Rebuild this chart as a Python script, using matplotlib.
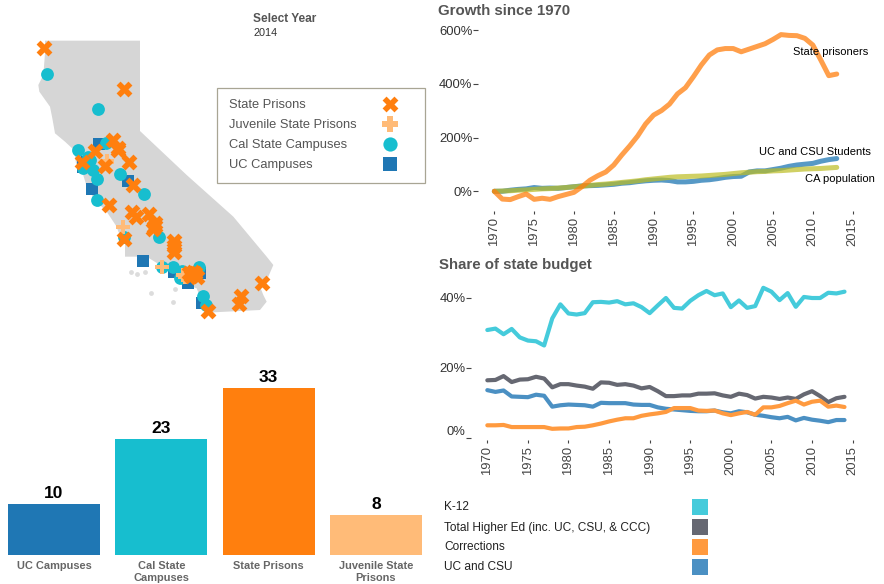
import matplotlib
matplotlib.use('Agg')
import matplotlib.pyplot as plt
from matplotlib.patches import Polygon, Rectangle

plt.rcParams['font.family'] = ['Liberation Sans', 'DejaVu Sans']

W, H = 884, 584

# map outline, map units
state_x = [135, 420, 420, 560, 700, 800, 820, 805, 780, 790, 800, 780, 640, 615, 600, 590, 550, 520, 480, 440, 375, 375,
           355, 350, 320, 285, 262, 248, 228, 222, 195, 165, 157, 150, 118, 115, 130, 135]
state_y = [122, 122, 393, 525, 650, 770, 795, 830, 860, 885, 905, 930, 937, 925, 890, 865, 850, 820, 795, 770, 770, 725,
           695, 680, 635, 600, 565, 520, 490, 450, 425, 400, 355, 320, 275, 255, 225, 160]
island_x = [392, 410, 435, 452, 525, 518]
island_y = [815, 821, 817, 880, 868, 905]

prison_x = [133, 373, 340, 355, 285, 247, 388, 314, 400, 328, 395, 409, 448, 466, 458, 463, 373, 523, 523, 523,
            787, 724, 718, 625, 568, 575, 580, 590, 572, 585, 355, 464, 576]
prison_y = [145, 268, 421, 451, 454, 487, 487, 498, 556, 616, 637, 652, 643, 668, 688, 680, 717, 722, 755, 738,
            850, 887, 913, 934, 818, 825, 815, 830, 828, 820, 445, 678, 822]
juvenile_x = [320, 322, 370, 485, 548, 555, 572, 582]
juvenile_y = [482, 487, 680, 800, 826, 830, 818, 825]
csu_x = [142, 295, 235, 265, 318, 250, 280, 290, 360, 433, 292, 373, 478, 485, 520, 545, 540, 575, 597, 610, 618, 555, 270]
csu_y = [223, 328, 450, 470, 430, 505, 510, 538, 522, 583, 600, 712, 712, 800, 800, 812, 835, 815, 802, 888, 915, 825, 480]
uc_x = [297, 262, 385, 277, 430, 522, 565, 600, 607, 250]
uc_y = [433, 487, 542, 568, 784, 815, 848, 820, 910, 500]

# bars
bar_labels = ['UC Campuses', 'Cal State\nCampuses', 'State Prisons', 'Juvenile State\nPrisons']
bar_values = [10, 23, 33, 8]
bar_colors = ['#1f77b4', '#17becf', '#ff7f0e', '#ffbb78']

# growth since 1970, percent
growth_years = list(range(1970, 2014))
prisoners = [0, -29, -31, -20, -10, -30, -26, -30, -20, -12, -4, 17, 41, 58, 72, 98, 135, 169, 206, 251, 284, 301,
             325, 363, 386, 427, 471, 508, 527, 532, 532, 520, 530, 540, 550, 566, 584, 581, 580, 570, 545, 489, 431, 437]
students = [0, 0, 4, 7, 9, 14, 11, 12, 11, 14, 17, 20, 21, 22, 24, 26, 30, 32, 36, 39, 41, 42,
            40, 35, 35, 37, 41, 43, 47, 52, 55, 56, 72, 76, 76, 81, 86, 93, 98, 101, 104, 112, 118, 122]
population = [0, 1, 2, 4, 5, 7, 9, 10, 12, 14, 17, 19, 22, 25, 27, 30, 33, 36, 39, 43, 46, 49,
              52, 54, 55, 56, 57, 59, 61, 63, 66, 69, 71, 73, 74, 76, 77, 79, 81, 83, 84, 85, 87, 89]

# share of state budget, percent
budget_years = list(range(1970, 2015))
k12 = [30.8, 31.2, 29.6, 31.1, 28.7, 27.8, 27.6, 26.4, 34.1, 38.1, 35.5, 35.2, 35.6, 38.7, 38.8, 38.6, 39.0, 38.1, 38.4,
       37.3, 35.6, 37.8, 39.9, 37.1, 36.9, 39.1, 40.7, 41.9, 40.7, 41.2, 37.3, 39.2, 37.1, 37.6, 42.8, 41.7, 39.3, 41.3,
       37.4, 40.2, 39.9, 39.9, 41.4, 41.2, 41.7]
higher_ed = [16.5, 16.6, 17.7, 16.0, 16.7, 16.8, 17.5, 17.0, 14.5, 15.4, 15.4, 15.0, 14.7, 14.1, 15.9, 15.8, 15.2, 15.4,
             15.0, 14.2, 14.6, 13.4, 12.0, 12.0, 12.2, 12.2, 12.7, 12.7, 12.8, 12.2, 11.8, 12.7, 12.3, 11.3, 11.8, 11.6,
             11.2, 11.6, 11.2, 12.5, 13.4, 12.0, 10.3, 11.4, 11.8]
corrections = [3.7, 3.7, 3.8, 3.2, 3.2, 3.2, 3.2, 3.2, 2.7, 2.8, 2.8, 3.2, 3.3, 3.7, 4.2, 4.8, 5.3, 5.7, 5.7, 6.4, 6.8,
               7.1, 7.5, 8.6, 8.6, 8.6, 7.9, 7.8, 7.9, 7.1, 6.6, 7.1, 7.5, 6.7, 8.8, 8.8, 9.2, 10.0, 10.7, 9.6, 10.4,
               10.7, 9.0, 9.3, 8.9]
uc_csu = [13.7, 13.2, 13.6, 11.9, 11.8, 11.7, 12.4, 12.1, 9.0, 9.4, 9.6, 9.5, 9.4, 9.0, 10.1, 10.0, 10.0, 10.0, 9.6, 9.5,
          9.5, 8.8, 8.4, 8.2, 8.0, 7.8, 7.7, 7.7, 7.9, 7.4, 7.1, 7.7, 7.4, 6.7, 6.4, 6.0, 5.7, 6.1, 5.1, 5.8, 5.3, 5.0,
          4.6, 5.2, 5.2]

legend_names = ['State Prisons', 'Juvenile State Prisons', 'Cal State Campuses', 'UC Campuses']
budget_names = ['K-12', 'Total Higher Ed (inc. UC, CSU, & CCC)', 'Corrections', 'UC and CSU']
budget_colors = ['#45cbdb', '#666872', '#ff9a3f', '#4b90c3']


def px_axes(left, top, right, bottom):
    # axes placed by pixel edges, top-left origin
    ax = fig.add_axes([left / W, 1 - bottom / H, (right - left) / W, (bottom - top) / H])
    ax.patch.set_alpha(0)
    return ax


def style_lines(ax):
    for s in ax.spines.values():
        s.set_visible(False)
    ax.set_xticks(range(1970, 2016, 5))
    ax.tick_params(axis='x', rotation=90, length=2.5, width=0.8, color='#444444', labelcolor='#444444',
                   labelsize=9.4, pad=2)
    ax.tick_params(axis='y', length=3.5, width=0.8, color='#444444', labelcolor='#333333', labelsize=9.4, pad=0.5)


fig = plt.figure(figsize=(W / 100, H / 100), dpi=100)

# map
ax = px_axes(0, 0, 430, 330)
ax.set_xlim(0, 1290)
ax.set_ylim(990, 0)
ax.axis('off')
ax.add_patch(Polygon(list(zip(state_x, state_y)), closed=True, fc='#d6d6d6', ec='none'))
ax.scatter(island_x, island_y, s=12, marker='o', color='#dcdcdc', linewidths=0)
ax.scatter(uc_x, uc_y, s=72, marker='s', color='#1f77b4', linewidths=0, zorder=3)
ax.scatter(csu_x, csu_y, s=85, marker='o', color='#17becf', linewidths=0, zorder=4)
ax.scatter(juvenile_x, juvenile_y, s=105, marker='P', color='#ffbb78', linewidths=0, zorder=5)
ax.scatter(prison_x, prison_y, s=130, marker='X', color='#ff7f0e', linewidths=0, zorder=6)

ax.text(760, 58, 'Select Year', fontsize=8.6, fontweight='bold', color='#555555', va='center')
ax.text(762, 100, '2014', fontsize=7.8, color='#333333', va='center')

ax.add_patch(Rectangle((652, 265), 622, 285, fc='white', ec='#a8a594', lw=0.9, zorder=7))
legend_y = [313, 373, 433, 493]
for i, name in enumerate(legend_names):
    ax.text(688, legend_y[i] + 2, name, fontsize=9.3, color='#555555', va='center', zorder=8)
ax.scatter([1170], [legend_y[0]], s=130, marker='X', color='#ff7f0e', linewidths=0, zorder=8)
ax.scatter([1170], [legend_y[1]], s=130, marker='P', color='#ffbb78', linewidths=0, zorder=8)
ax.scatter([1170], [legend_y[2]], s=105, marker='o', color='#17becf', linewidths=0, zorder=8)
ax.scatter([1170], [legend_y[3]], s=105, marker='s', color='#1f77b4', linewidths=0, zorder=8)

# bars
ax = px_axes(0, 360, 430, 555)
ax.bar(range(4), bar_values, width=0.857, color=bar_colors)
ax.set_xlim(-0.503, 3.504)
ax.set_ylim(0, 38.6)
for s in ax.spines.values():
    s.set_visible(False)
ax.set_yticks([])
ax.set_xticks(range(4))
ax.set_xticklabels(bar_labels, fontsize=7.9, fontweight='bold', color='#666666', linespacing=1.3)
ax.tick_params(axis='x', length=0, pad=4.2)
for i, v in enumerate(bar_values):
    ax.text(i, v + 0.6, str(v), ha='center', va='bottom', fontsize=12.5, fontweight='bold', color='black')

# growth
ax = px_axes(478, 25, 860, 211)
ax.plot(growth_years, students, color='#1f77b4', alpha=0.75, lw=3.6, solid_capstyle='round')
ax.plot(growth_years, population, color='#bcbd22', alpha=0.7, lw=3.6, solid_capstyle='round')
ax.plot(growth_years, prisoners, color='#ff7f0e', alpha=0.75, lw=3.6, solid_capstyle='round')
ax.set_xlim(1967.95, 2015.92)
ax.set_ylim(-73.5, 619.8)
ax.set_yticks([0, 200, 400, 600])
ax.set_yticklabels(['0%', '200%', '400%', '600%'])
style_lines(ax)
ax.text(2007.5, 519, 'State prisoners', fontsize=8, color='black', va='center')
ax.text(2003.2, 146, 'UC and CSU Students', fontsize=8, color='black', va='center')
ax.text(2009.0, 46, 'CA population', fontsize=8, color='black', va='center')
fig.text(438 / W, 1 - 11 / H, 'Growth since 1970', fontsize=10.8, fontweight='bold', color='#555555', va='center')

# budget
ax = px_axes(471, 285, 860, 440)
ax.plot(budget_years, k12, color=budget_colors[0], lw=3, solid_capstyle='round')
ax.plot(budget_years, higher_ed, color=budget_colors[1], lw=3, solid_capstyle='round')
ax.plot(budget_years, uc_csu, color=budget_colors[3], lw=3, solid_capstyle='round')
ax.plot(budget_years, corrections, color=budget_colors[2], lw=3, solid_capstyle='round')
ax.set_xlim(1967.99, 2015.91)
ax.set_ylim(-0.48, 43.6)
ax.set_yticks([0, 20, 40])
ax.set_yticklabels(['0%', '20%', '40%'])
style_lines(ax)
ax.get_yticklabels()[0].set_verticalalignment('bottom')
fig.text(439 / W, 1 - 265 / H, 'Share of state budget', fontsize=10.8, fontweight='bold', color='#555555', va='center')

# budget legend
ax = px_axes(430, 480, 750, 584)
ax.set_xlim(430, 750)
ax.set_ylim(584, 480)
ax.axis('off')
for i, name in enumerate(budget_names):
    ax.text(444, 507.5 + i * 20, name, fontsize=8.6, color='#222222', va='center')
    ax.add_patch(Rectangle((692, 499 + i * 20), 16, 16, fc=budget_colors[i], ec='none'))

fig.savefig('out.png', dpi=100)
